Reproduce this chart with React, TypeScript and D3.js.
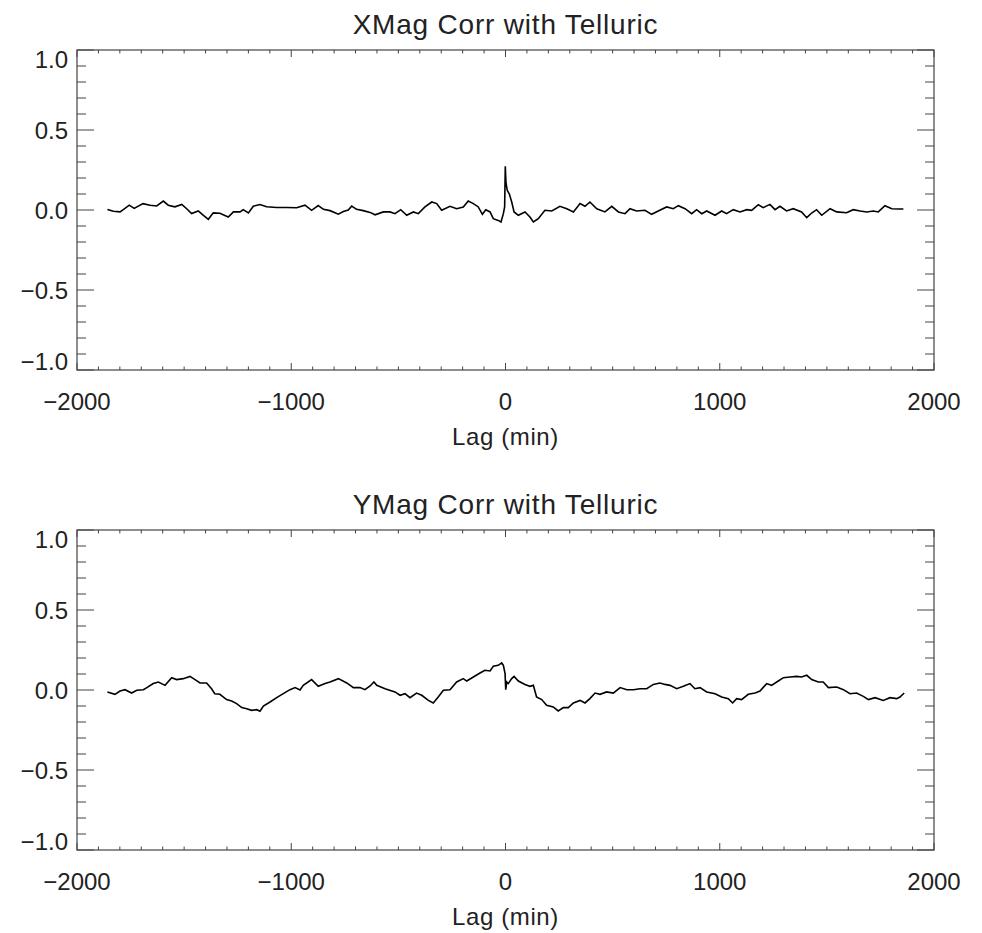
import React, { useEffect, useRef } from 'react'
import * as d3 from 'd3'

// [lag (min), correlation]
const XMAG_CORR: [number, number][] = [
  [-1858, 0.003], [-1830, -0.008], [-1799, -0.012], [-1784, 0.002], [-1756, 0.03], [-1733, 0.01],
  [-1692, 0.04], [-1659, 0.03], [-1628, 0.025], [-1597, 0.056], [-1574, 0.03], [-1543, 0.02],
  [-1511, 0.035], [-1488, 0.008], [-1465, -0.022], [-1434, -0.006], [-1410, -0.033], [-1387, -0.058],
  [-1364, -0.018], [-1333, -0.02], [-1294, -0.044], [-1270, -0.012], [-1239, -0.012], [-1224, 0.002],
  [-1200, -0.018], [-1177, 0.024], [-1146, 0.034], [-1115, 0.02], [-1068, 0.016], [-1021, 0.016],
  [-975, 0.014], [-936, 0.03], [-905, -0.002], [-874, 0.028], [-850, 0.004], [-819, -0.004],
  [-780, -0.026], [-757, -0.01], [-734, 0], [-718, 0.024], [-695, 0.004], [-664, -0.004],
  [-632, -0.015], [-609, -0.03], [-570, -0.012], [-539, -0.012], [-516, -0.023], [-489, 0.002],
  [-461, -0.033], [-430, -0.012], [-407, -0.023], [-376, 0.019], [-344, 0.05], [-321, 0.04],
  [-298, -0.002], [-259, 0.023], [-228, 0.008], [-197, 0.019], [-174, 0.056], [-150, 0.04],
  [-127, 0.019], [-108, -0.027], [-92, 0.002], [-72, -0.012], [-57, -0.054], [-34, -0.065],
  [-21, -0.075], [-10, -0.023], [-4, 0.019], [-1, 0.273], [2, 0.175], [8, 0.123],
  [18, 0.1], [29, 0.05], [40, -0.012], [60, -0.033], [91, -0.012], [114, -0.044],
  [130, -0.075], [153, -0.054], [184, -0.002], [216, -0.006], [254, 0.023], [286, 0.008],
  [317, -0.012], [348, 0.04], [371, 0.023], [394, 0.05], [426, 0.008], [464, -0.012],
  [496, 0.023], [527, -0.012], [558, -0.023], [581, 0.008], [612, -0.006], [651, -0.002],
  [682, -0.027], [713, -0.006], [752, 0.019], [783, 0.008], [807, 0.027], [838, 0.008],
  [869, -0.023], [892, 0.002], [916, -0.023], [939, -0.006], [978, -0.033], [1009, -0.006],
  [1032, -0.023], [1063, 0.002], [1095, -0.012], [1126, 0.002], [1149, -0.002], [1180, 0.033],
  [1203, 0.015], [1234, 0.035], [1258, 0.002], [1281, 0.023], [1312, -0.006], [1343, 0.008],
  [1382, -0.012], [1406, -0.048], [1429, -0.019], [1452, 0.002], [1476, -0.033], [1515, 0.008],
  [1546, -0.012], [1592, -0.017], [1623, 0.002], [1655, -0.006], [1686, -0.012], [1717, -0.006],
  [1740, -0.012], [1771, 0.027], [1803, 0.008], [1834, 0.006], [1857, 0.006]
]

const YMAG_CORR: [number, number][] = [
  [-1858, -0.012], [-1823, -0.027], [-1799, -0.006], [-1776, 0.002], [-1745, -0.019], [-1721, -0.002],
  [-1690, 0.002], [-1674, 0.015], [-1644, 0.04], [-1620, 0.05], [-1589, 0.029], [-1558, 0.077],
  [-1535, 0.065], [-1504, 0.071], [-1473, 0.085], [-1449, 0.065], [-1426, 0.044], [-1395, 0.044],
  [-1372, 0.008], [-1357, -0.023], [-1333, -0.027], [-1302, -0.06], [-1278, -0.069], [-1255, -0.085],
  [-1231, -0.11], [-1208, -0.117], [-1185, -0.127], [-1161, -0.123], [-1146, -0.133], [-1130, -0.1],
  [-1099, -0.075], [-1068, -0.048], [-1037, -0.023], [-1006, 0.002], [-982, 0.015], [-959, 0.0],
  [-944, 0.029], [-905, 0.065], [-874, 0.023], [-842, 0.04], [-819, 0.05], [-780, 0.071],
  [-741, 0.044], [-710, 0.015], [-679, 0.015], [-656, 0.002], [-632, 0.025], [-614, 0.05],
  [-601, 0.029], [-562, 0.008], [-516, -0.012], [-492, -0.033], [-469, -0.023], [-446, -0.048],
  [-415, -0.019], [-391, -0.033], [-360, -0.065], [-337, -0.081], [-314, -0.044], [-290, -0.002],
  [-259, 0.002], [-228, 0.05], [-197, 0.071], [-181, 0.056], [-150, 0.081], [-119, 0.106],
  [-96, 0.123], [-72, 0.119], [-57, 0.148], [-34, 0.154], [-18, 0.169], [-10, 0.154],
  [-2, 0.102], [1, 0.002], [6, 0.05], [13, 0.04], [29, 0.071], [40, 0.085],
  [60, 0.056], [91, 0.035], [114, 0.023], [130, 0.029], [145, -0.044], [169, -0.06],
  [192, -0.096], [223, -0.106], [246, -0.131], [270, -0.11], [293, -0.11], [317, -0.081],
  [348, -0.065], [371, -0.081], [394, -0.054], [418, -0.019], [441, -0.027], [472, -0.012],
  [503, -0.019], [535, 0.015], [566, 0.002], [597, 0.002], [628, 0.008], [659, 0.008],
  [690, 0.035], [721, 0.044], [744, 0.035], [768, 0.029], [799, 0.008], [830, 0.023],
  [861, 0.04], [884, 0.008], [908, 0.015], [939, -0.012], [978, -0.023], [1009, -0.044],
  [1040, -0.054], [1060, -0.081], [1079, -0.054], [1102, -0.06], [1133, -0.027], [1165, -0.019],
  [1188, -0.006], [1219, 0.04], [1242, 0.029], [1266, 0.05], [1297, 0.077], [1328, 0.081],
  [1359, 0.085], [1382, 0.081], [1406, 0.092], [1429, 0.065], [1460, 0.05], [1483, 0.05],
  [1507, 0.015], [1546, 0.019], [1577, 0.002], [1608, -0.023], [1639, -0.019], [1670, -0.04],
  [1694, -0.06], [1725, -0.048], [1763, -0.065], [1795, -0.048], [1826, -0.054], [1841, -0.044],
  [1861, -0.019]
]

const X_MAJOR = [-2000, -1000, 0, 1000, 2000]
const Y_MAJOR = [-1.0, -0.5, 0.0, 0.5, 1.0]
const TITLES = ['XMag Corr with Telluric', 'YMag Corr with Telluric']
const X_LABEL = 'Lag (min)'

const W = 982
const H = 933
const FONT = '"Liberation Sans", Arial, sans-serif'

const App: React.FC = () => {
  const svgRef = useRef<SVGSVGElement>(null)

  useEffect(() => {
    if (!svgRef.current) return
    const svg = d3.select(svgRef.current)
    svg.selectAll('*').remove()

    const left = 77
    const right = 934
    const panels = [
      { top: 50, data: XMAG_CORR, title: TITLES[0] },
      { top: 530, data: YMAG_CORR, title: TITLES[1] }
    ]
    const ph = 320

    const x = d3.scaleLinear().domain([-2000, 2000]).range([left, right])
    const xMinor = d3.range(-2000, 2001, 100)
    const yMinor = d3.range(-10, 11).map(d => d / 10)

    panels.forEach(p => {
      const bottom = p.top + ph
      const y = d3.scaleLinear().domain([-1, 1]).range([bottom, p.top])
      const g = svg.append('g')

      // frame
      g.append('rect')
        .attr('x', left).attr('y', p.top)
        .attr('width', right - left).attr('height', ph)
        .attr('fill', 'none').attr('stroke', '#444').attr('stroke-width', 1.2)

      // x ticks, bottom and top
      xMinor.forEach(v => {
        const len = X_MAJOR.includes(v) ? 7 : 3.5
        g.append('line').attr('x1', x(v)).attr('x2', x(v)).attr('y1', bottom).attr('y2', bottom - len)
          .attr('stroke', '#444').attr('stroke-width', 1)
        g.append('line').attr('x1', x(v)).attr('x2', x(v)).attr('y1', p.top).attr('y2', p.top + len)
          .attr('stroke', '#444').attr('stroke-width', 1)
      })

      // y ticks, left and right
      yMinor.forEach(v => {
        const major = Y_MAJOR.some(m => Math.abs(m - v) < 1e-9)
        const len = major ? 17 : 9
        g.append('line').attr('x1', left).attr('x2', left + len).attr('y1', y(v)).attr('y2', y(v))
          .attr('stroke', '#444').attr('stroke-width', 1)
        g.append('line').attr('x1', right).attr('x2', right - len).attr('y1', y(v)).attr('y2', y(v))
          .attr('stroke', '#444').attr('stroke-width', 1)
      })

      // x tick labels
      g.selectAll('.xl').data(X_MAJOR).enter().append('text')
        .attr('x', d => x(d)).attr('y', bottom + 40)
        .attr('text-anchor', 'middle')
        .attr('font-family', FONT).attr('font-size', 24).attr('fill', '#222')
        .text(d => (d < 0 ? '\u2212' + Math.abs(d) : String(d)))

      // y tick labels (end labels kept inside the frame)
      g.selectAll('.yl').data(Y_MAJOR).enter().append('text')
        .attr('x', left - 9)
        .attr('y', d => {
          if (d === 1) return y(d) + 18
          if (d === -1) return y(d)
          return y(d) + 9
        })
        .attr('text-anchor', 'end')
        .attr('font-family', FONT).attr('font-size', 24).attr('fill', '#222')
        .text(d => (d < 0 ? '\u2212' : '') + Math.abs(d).toFixed(1))

      // title and axis label
      g.append('text')
        .attr('x', (left + right) / 2).attr('y', p.top - 16)
        .attr('text-anchor', 'middle')
        .attr('font-family', FONT).attr('font-size', 28).attr('letter-spacing', 0.8).attr('fill', '#222')
        .text(p.title)
      g.append('text')
        .attr('x', (left + right) / 2).attr('y', bottom + 75)
        .attr('text-anchor', 'middle')
        .attr('font-family', FONT).attr('font-size', 24).attr('letter-spacing', 0.6).attr('fill', '#222')
        .text(X_LABEL)

      // correlation trace
      const line = d3.line<[number, number]>()
        .x(d => x(d[0]))
        .y(d => y(d[1]))
      g.append('path')
        .datum(p.data)
        .attr('d', line)
        .attr('fill', 'none')
        .attr('stroke', '#000')
        .attr('stroke-width', 1.6)
        .attr('stroke-linejoin', 'miter')
    })
  }, [])

  return (
    <svg
      ref={svgRef}
      width={W}
      height={H}
      style={{ position: 'absolute', left: 0, top: 0, background: '#fff' }}
    />
  )
}

export default App
